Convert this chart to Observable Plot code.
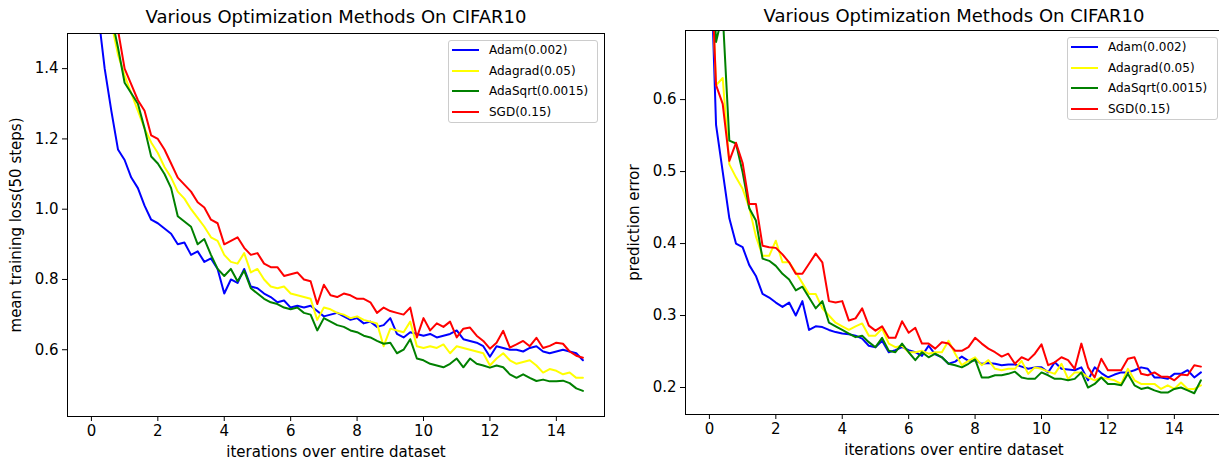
<!DOCTYPE html>
<html><head><meta charset="utf-8">
<script src="https://cdn.jsdelivr.net/npm/d3@7"></script>
<script src="https://cdn.jsdelivr.net/npm/@observablehq/plot@0.6"></script>
<style>
html,body{margin:0;padding:0;background:#fff;overflow:hidden;width:1219px;height:459px;}
#wrap{position:relative;width:1219px;height:459px;font-family:"DejaVu Sans",sans-serif;overflow:hidden;}
.panel{position:absolute;top:0;}
.legend{position:absolute;border:1px solid #cccccc;border-radius:3px;background:rgba(255,255,255,0.8);box-sizing:border-box;font-family:"DejaVu Sans",sans-serif;font-size:12px;color:#000;}
.legend .sw{position:absolute;left:3px;width:27px;height:2px;}
.legend .lb{position:absolute;left:40px;line-height:14px;white-space:nowrap;}
</style>
</head><body>
<div id="wrap"></div>
<script>
const methods = ["Adam(0.002)", "Adagrad(0.05)", "AdaSqrt(0.0015)", "SGD(0.15)"];
const colors = ["#0000ff", "#ffff00", "#008000", "#ff0000"];
const xTicks = [0, 2, 4, 6, 8, 10, 12, 14];
const lossTicks = [0.6, 0.8, 1.0, 1.2, 1.4];
const errTicks = [0.2, 0.3, 0.4, 0.5, 0.6];
const titleText = "Various Optimization Methods On CIFAR10";
const xLabel = "iterations over entire dataset";
const lossLabel = "mean training loss(50 steps)";
const errLabel = "prediction error";

const iterations = [0,0.2,0.4,0.6,0.8,1,1.2,1.4,1.6,1.8,2,2.2,2.4,2.6,2.8,3,3.2,3.4,3.6,3.8,4,4.2,4.4,4.6,4.8,5,5.2,5.4,5.6,5.8,6,6.2,6.4,6.6,6.8,7,7.2,7.4,7.6,7.8,8,8.2,8.4,8.6,8.8,9,9.2,9.4,9.6,9.8,10,10.2,10.4,10.6,10.8,11,11.2,11.4,11.6,11.8,12,12.2,12.4,12.6,12.8,13,13.2,13.4,13.6,13.8,14,14.2,14.4,14.6,14.8];

const lossAdam = [2.3,1.56,1.40,1.28,1.17,1.14,1.09,1.06,1.01,0.97,
0.96,0.945,0.93,0.90,0.905,0.87,0.88,0.85,0.86,0.83,
0.76,0.80,0.79,0.83,0.78,0.775,0.76,0.75,0.735,0.74,
0.72,0.725,0.72,0.725,0.71,0.695,0.70,0.705,0.695,0.685,
0.69,0.675,0.68,0.665,0.67,0.69,0.645,0.635,0.65,0.645,
0.64,0.645,0.635,0.64,0.645,0.655,0.63,0.625,0.62,0.61,
0.58,0.61,0.605,0.60,0.60,0.595,0.605,0.61,0.595,0.59,
0.595,0.60,0.595,0.59,0.57];
const lossAdagrad = [2.4,2.0,1.75,1.53,1.44,1.38,1.33,1.28,1.23,1.19,
1.16,1.12,1.09,1.05,1.03,1.00,0.975,0.95,0.92,0.91,
0.87,0.85,0.845,0.875,0.82,0.83,0.80,0.78,0.775,0.78,
0.76,0.755,0.75,0.745,0.685,0.72,0.715,0.705,0.70,0.69,
0.695,0.685,0.68,0.675,0.61,0.66,0.655,0.65,0.68,0.61,
0.605,0.61,0.605,0.615,0.59,0.61,0.605,0.60,0.595,0.59,
0.555,0.575,0.59,0.57,0.56,0.565,0.57,0.555,0.535,0.545,
0.54,0.53,0.535,0.52,0.52];
const lossAdaSqrt = [2.4,2.0,1.76,1.55,1.46,1.36,1.33,1.30,1.23,1.15,
1.13,1.10,1.06,0.98,0.965,0.95,0.90,0.915,0.87,0.83,
0.81,0.83,0.795,0.825,0.775,0.76,0.745,0.735,0.73,0.72,
0.715,0.72,0.705,0.70,0.655,0.69,0.68,0.67,0.665,0.655,
0.65,0.64,0.635,0.625,0.617,0.62,0.59,0.60,0.63,0.575,
0.57,0.56,0.555,0.55,0.56,0.575,0.55,0.575,0.56,0.555,
0.549,0.555,0.55,0.53,0.52,0.53,0.52,0.511,0.515,0.51,
0.51,0.512,0.505,0.49,0.483];
const lossSGD = [2.5,2.1,1.85,1.62,1.51,1.40,1.355,1.31,1.28,1.21,
1.20,1.17,1.13,1.09,1.07,1.05,1.02,1.005,0.97,0.96,
0.90,0.91,0.92,0.89,0.87,0.875,0.845,0.835,0.835,0.81,
0.815,0.82,0.80,0.795,0.73,0.785,0.755,0.75,0.76,0.755,
0.745,0.745,0.735,0.705,0.72,0.71,0.705,0.70,0.72,0.635,
0.69,0.655,0.675,0.665,0.68,0.635,0.66,0.663,0.64,0.625,
0.603,0.62,0.654,0.606,0.615,0.625,0.61,0.634,0.605,0.611,
0.62,0.617,0.595,0.583,0.577];

const errAdam = [0.85,0.565,0.50,0.435,0.40,0.395,0.37,0.355,0.33,0.325,
0.318,0.312,0.318,0.30,0.32,0.28,0.285,0.284,0.28,0.277,
0.275,0.274,0.272,0.268,0.258,0.256,0.265,0.249,0.252,0.256,
0.252,0.249,0.244,0.258,0.246,0.242,0.233,0.236,0.243,0.237,
0.238,0.233,0.234,0.233,0.231,0.232,0.232,0.229,0.226,0.228,
0.228,0.221,0.235,0.226,0.225,0.224,0.228,0.21,0.228,0.22,
0.214,0.218,0.221,0.221,0.224,0.228,0.226,0.214,0.214,0.212,
0.219,0.219,0.224,0.214,0.221];
const errAdagrad = [0.85,0.62,0.63,0.51,0.492,0.476,0.45,0.41,0.383,0.383,
0.404,0.374,0.374,0.36,0.345,0.33,0.33,0.31,0.30,0.29,
0.285,0.28,0.285,0.289,0.272,0.272,0.282,0.261,0.256,0.258,
0.249,0.249,0.251,0.247,0.249,0.249,0.265,0.247,0.231,0.237,
0.242,0.231,0.238,0.226,0.224,0.226,0.226,0.237,0.219,0.228,
0.226,0.222,0.219,0.233,0.212,0.221,0.221,0.214,0.21,0.214,
0.212,0.21,0.205,0.226,0.21,0.205,0.205,0.205,0.198,0.203,
0.198,0.207,0.198,0.198,0.203];
const errAdaSqrt = [0.9,0.68,0.72,0.543,0.539,0.499,0.449,0.432,0.379,0.376,
0.369,0.358,0.35,0.335,0.34,0.325,0.31,0.32,0.29,0.285,
0.28,0.275,0.27,0.272,0.263,0.256,0.269,0.251,0.249,0.261,
0.249,0.238,0.249,0.242,0.247,0.242,0.233,0.231,0.228,0.233,
0.239,0.214,0.214,0.217,0.217,0.219,0.222,0.214,0.212,0.212,
0.221,0.217,0.212,0.212,0.21,0.212,0.221,0.2,0.205,0.214,
0.205,0.205,0.203,0.219,0.203,0.198,0.2,0.196,0.193,0.193,
0.198,0.2,0.196,0.192,0.21];
const errSGD = [0.85,0.62,0.594,0.515,0.54,0.512,0.455,0.455,0.397,0.395,
0.394,0.385,0.374,0.358,0.358,0.372,0.386,0.374,0.32,0.318,
0.32,0.293,0.296,0.31,0.286,0.279,0.285,0.269,0.269,0.292,
0.276,0.283,0.261,0.261,0.254,0.263,0.261,0.251,0.251,0.256,
0.269,0.261,0.254,0.249,0.243,0.247,0.233,0.242,0.238,0.247,
0.26,0.231,0.235,0.242,0.238,0.226,0.261,0.228,0.214,0.24,
0.224,0.224,0.224,0.24,0.242,0.219,0.217,0.221,0.215,0.215,
0.21,0.218,0.217,0.231,0.229];

function tidy(series) {
  return series.flatMap((vals, i) => vals.map((v, j) => ({x: iterations[j], y: v, method: methods[i]})));
}

function panel({data, yDomain, yTicks, yLabel, marginTop, marginBottom, titleDy}) {
  return Plot.plot({
    width: 618, height: 459,
    marginLeft: 67, marginRight: 14, marginTop, marginBottom,
    style: {fontFamily: "DejaVu Sans", fontSize: "15px", color: "#000", background: "transparent", overflow: "visible"},
    x: {domain: [-0.72, 15.45]},
    y: {domain: yDomain},
    color: {domain: methods, range: colors},
    marks: [
      Plot.line(data, {x: "x", y: "y", z: "method", stroke: "method", strokeWidth: 2, clip: true}),
      Plot.frame({stroke: "#000", strokeWidth: 1}),
      Plot.axisX({ticks: xTicks, tickSize: 5, tickPadding: 4, tickFormat: d => String(d), fontSize: 15,
        label: xLabel, labelAnchor: "center", labelOffset: 40, labelArrow: "none"}),
      Plot.axisY({ticks: yTicks, tickSize: 5, tickPadding: 4, tickFormat: d3.format(".1f"), fontSize: 15,
        label: yLabel, labelAnchor: "center", labelOffset: 57, labelArrow: "none"}),
      Plot.text([titleText], {text: d => d, frameAnchor: "top", dy: titleDy, fontSize: 18, lineAnchor: "middle", fill: "#000"})
    ]
  });
}

function legend(left, top, width) {
  const box = document.createElement("div");
  box.className = "legend";
  box.style.left = left + "px";
  box.style.top = top + "px";
  box.style.width = width + "px";
  box.style.height = "83px";
  methods.forEach((m, i) => {
    const cy = 9 + i * 20.5;
    const sw = document.createElement("span");
    sw.className = "sw";
    sw.style.top = (cy - 1) + "px";
    sw.style.background = colors[i];
    const lb = document.createElement("span");
    lb.className = "lb";
    lb.style.top = (cy - 7) + "px";
    lb.textContent = m;
    box.appendChild(sw);
    box.appendChild(lb);
  });
  return box;
}

const wrap = document.getElementById("wrap");
const left = panel({data: tidy([lossAdam, lossAdagrad, lossAdaSqrt, lossSGD]), yDomain: [0.41, 1.5], yTicks: lossTicks, yLabel: lossLabel, marginTop: 33, marginBottom: 43, titleDy: -16});
left.classList.add("panel"); left.style.left = "0px";
const right = panel({data: tidy([errAdam, errAdagrad, errAdaSqrt, errSGD]), yDomain: [0.1625, 0.696], yTicks: errTicks, yLabel: errLabel, marginTop: 30, marginBottom: 45, titleDy: -14});
right.classList.add("panel"); right.style.left = "618px";
wrap.appendChild(left);
wrap.appendChild(right);
wrap.appendChild(legend(448, 40, 150));
wrap.appendChild(legend(1067, 37, 151));
</script>
</body></html>
